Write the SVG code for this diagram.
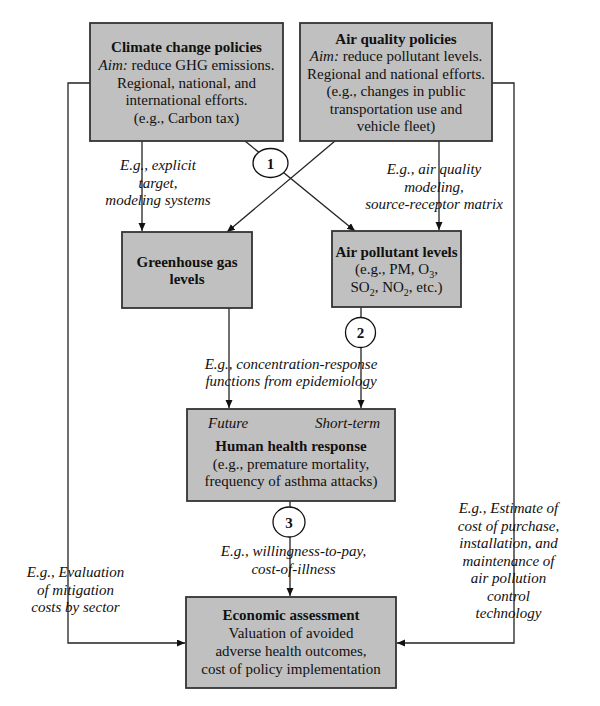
<svg xmlns="http://www.w3.org/2000/svg" width="600" height="706" viewBox="0 0 600 706" font-family="'Liberation Serif', 'Times New Roman', serif">
<style>
text{font-family:'Liberation Serif','Times New Roman',Times,serif;font-size:15px;fill:#111;text-anchor:middle}
.b{font-weight:bold}
.i{font-style:italic}
.box{fill:#c0c0c0;stroke:#333;stroke-width:1.8}
.ln{fill:none;stroke:#222;stroke-width:1.3}
.cir{fill:#fff;stroke:#111;stroke-width:1.3}
.sub{font-size:10px}
</style>
<defs>
<marker id="arr" markerUnits="userSpaceOnUse" markerWidth="9" markerHeight="8" refX="8" refY="3.5" orient="auto">
<path d="M0,0 L8,3.5 L0,7 z" fill="#111"/>
</marker>
</defs>
<rect width="600" height="706" fill="#fff"/>
<g id="connectors">
<path class="ln" d="M142,141 V231" marker-end="url(#arr)"/>
<path class="ln" d="M245,141 L355,231" marker-end="url(#arr)"/>
<path class="ln" d="M335,141 L227,232" marker-end="url(#arr)"/>
<path class="ln" d="M439,141 V230" marker-end="url(#arr)"/>
<path class="ln" d="M229,308 V408" marker-end="url(#arr)"/>
<path class="ln" d="M361,307 V408" marker-end="url(#arr)"/>
<path class="ln" d="M290,501 V596" marker-end="url(#arr)"/>
<path class="ln" d="M90,83 H68 V643 H185" marker-end="url(#arr)"/>
<path class="ln" d="M492,83 H514 V643 H397" marker-end="url(#arr)"/>
</g>
<g id="labels">
<text class="i"><tspan x="158" y="170">E.g., explicit</tspan><tspan x="158" y="187.5">target,</tspan><tspan x="158" y="205">modeling systems</tspan></text>
<text class="i"><tspan x="434" y="174">E.g., air quality</tspan><tspan x="434" y="191.5">modeling,</tspan><tspan x="434" y="209">source-receptor matrix</tspan></text>
<text class="i"><tspan x="291" y="369">E.g., concentration-response</tspan><tspan x="291" y="386">functions from epidemiology</tspan></text>
<text class="i"><tspan x="293.5" y="556">E.g., willingness-to-pay,</tspan><tspan x="293.5" y="574">cost-of-illness</tspan></text>
<text class="i"><tspan x="75.5" y="577">E.g., Evaluation</tspan><tspan x="75.5" y="594.5">of mitigation</tspan><tspan x="75.5" y="612">costs by sector</tspan></text>
<text class="i"><tspan x="508.5" y="513">E.g., Estimate of</tspan><tspan x="508.5" y="531">cost of purchase,</tspan><tspan x="508.5" y="548">installation, and</tspan><tspan x="508.5" y="566">maintenance of</tspan><tspan x="508.5" y="583">air pollution</tspan><tspan x="508.5" y="601">control</tspan><tspan x="508.5" y="618">technology</tspan></text>
</g>
<g id="climate">
<rect class="box" x="90" y="23" width="193" height="118"/>
<text class="b" x="186.5" y="52">Climate change policies</text>
<text x="186.5" y="70"><tspan class="i">Aim:</tspan> reduce GHG emissions.</text>
<text x="186.5" y="87.5">Regional, national, and</text>
<text x="186.5" y="105">international efforts.</text>
<text x="186.5" y="122.5">(e.g., Carbon tax)</text>
</g>
<g id="airquality">
<rect class="box" x="300" y="23" width="192" height="118"/>
<text class="b" x="396" y="43.5">Air quality policies</text>
<text x="396" y="61"><tspan class="i">Aim:</tspan> reduce pollutant levels.</text>
<text x="396" y="78.5">Regional and national efforts.</text>
<text x="396" y="96">(e.g., changes in public</text>
<text x="396" y="113.5">transportation use and</text>
<text x="396" y="131">vehicle fleet)</text>
</g>
<g id="greenhouse">
<rect class="box" x="122" y="232" width="130" height="76"/>
<text class="b" x="187" y="267">Greenhouse gas</text>
<text class="b" x="187" y="284">levels</text>
</g>
<g id="pollutant">
<rect class="box" x="332" y="231" width="129" height="76"/>
<text class="b" x="396.5" y="257">Air pollutant levels</text>
<text x="396.5" y="274">(e.g., PM, O<tspan class="sub" dy="4">3</tspan><tspan dy="-4">,</tspan></text>
<text x="396.5" y="291.5">SO<tspan class="sub" dy="4">2</tspan><tspan dy="-4">, NO</tspan><tspan class="sub" dy="4">2</tspan><tspan dy="-4">, etc.)</tspan></text>
</g>
<g id="health">
<rect class="box" x="187" y="409" width="208" height="92"/>
<text class="i" x="208" y="428" style="text-anchor:start">Future</text>
<text class="i" x="380" y="428" style="text-anchor:end">Short-term</text>
<text class="b" x="291" y="451">Human health response</text>
<text x="291" y="468.5">(e.g., premature mortality,</text>
<text x="291" y="486">frequency of asthma attacks)</text>
</g>
<g id="economic">
<rect class="box" x="186" y="597" width="210" height="91"/>
<text class="b" x="291" y="620">Economic assessment</text>
<text x="291" y="638">Valuation of avoided</text>
<text x="291" y="656">adverse health outcomes,</text>
<text x="291" y="674">cost of policy implementation</text>
</g>
<g id="circle1">
<ellipse class="cir" cx="270.5" cy="163" rx="17.5" ry="14.5"/>
<text class="b" x="270.5" y="168.5">1</text>
</g>
<g id="circle2">
<ellipse class="cir" cx="360.5" cy="332.5" rx="15" ry="15"/>
<text class="b" x="360.5" y="338">2</text>
</g>
<g id="circle3">
<ellipse class="cir" cx="289" cy="522" rx="16" ry="15"/>
<text class="b" x="289" y="527.5">3</text>
</g>
</svg>
